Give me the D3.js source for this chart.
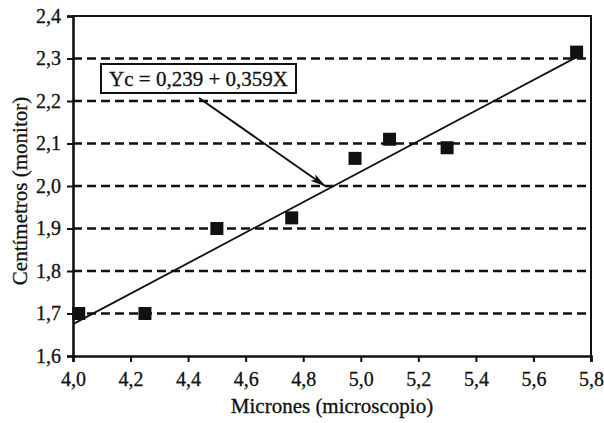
<!DOCTYPE html>
<html>
<head>
<meta charset="utf-8">
<script src="https://cdn.jsdelivr.net/npm/d3@7"></script>
<style>
  body { margin: 0; background: #fff; }
</style>
</head>
<body>
<script>
// Data
var micrones = [4.02, 4.25, 4.50, 4.76, 4.98, 5.10, 5.30, 5.75];
var centimetros = [1.70, 1.70, 1.90, 1.925, 2.065, 2.11, 2.09, 2.315];
var xTicks = [4.0, 4.2, 4.4, 4.6, 4.8, 5.0, 5.2, 5.4, 5.6, 5.8];
var yTicks = [1.6, 1.7, 1.8, 1.9, 2.0, 2.1, 2.2, 2.3, 2.4];
var intercept = 0.239, slope = 0.359;
var fitRange = [4.0, 5.76];
var equationLabel = "Yc = 0,239 + 0,359X";
var arrowFrom = [4.438, 2.207], arrowTo = [4.876, 2.0];

var serif = "Liberation Serif";
var ink = "#111";

var margin = { top: 16, right: 13, bottom: 67, left: 73 };
var width = 604 - margin.left - margin.right;
var height = 423 - margin.top - margin.bottom;

var svg = d3.select("body").append("svg")
    .attr("width", 604)
    .attr("height", 423)
    .attr("font-family", serif);

var g = svg.append("g")
    .attr("transform", "translate(" + margin.left + "," + margin.top + ")");

var x = d3.scaleLinear().domain([4.0, 5.8]).range([0, width]);
var y = d3.scaleLinear().domain([1.6, 2.4]).range([height, 0]);

var fmt = function (d) { return d3.format(".1f")(d).replace(".", ","); };

// dashed gridlines
g.selectAll(".grid")
    .data(yTicks.filter(function (d) { return d > 1.6 && d < 2.4; }))
    .enter().append("line")
    .attr("class", "grid")
    .attr("x1", 0).attr("x2", width)
    .attr("y1", function (d) { return y(d); })
    .attr("y2", function (d) { return y(d); })
    .attr("stroke", ink)
    .attr("stroke-width", 2.4)
    .attr("stroke-dasharray", "9,5");

// frame top / right
g.append("path")
    .attr("d", "M0," + y(2.4) + "H" + width + "V" + height)
    .attr("fill", "none")
    .attr("stroke", ink)
    .attr("stroke-width", 2);

// axes
var xAxis = g.append("g")
    .attr("transform", "translate(0," + height + ")")
    .call(d3.axisBottom(x).tickValues(xTicks).tickFormat(fmt).tickSizeOuter(0).tickSize(6).tickPadding(10));
var yAxis = g.append("g")
    .call(d3.axisLeft(y).tickValues(yTicks).tickFormat(fmt).tickSizeOuter(0).tickSize(6).tickPadding(6));

[xAxis, yAxis].forEach(function (a) {
    a.attr("font-family", serif).attr("font-size", 20);
    a.select(".domain").attr("stroke", ink).attr("stroke-width", 2.6);
    a.selectAll(".tick line").attr("stroke", ink).attr("stroke-width", 2);
    a.selectAll("text").attr("fill", ink).attr("stroke", ink).attr("stroke-width", 0.3);
});

// regression line
var fit = d3.line()
    .x(function (d) { return x(d); })
    .y(function (d) { return y(intercept + slope * d); });
g.append("path")
    .datum(fitRange)
    .attr("d", fit)
    .attr("fill", "none")
    .attr("stroke", ink)
    .attr("stroke-width", 1.8);

// points
g.selectAll(".pt")
    .data(micrones)
    .enter().append("rect")
    .attr("class", "pt")
    .attr("x", function (d) { return x(d) - 6.5; })
    .attr("y", function (d, i) { return y(centimetros[i]) - 6.5; })
    .attr("width", 13)
    .attr("height", 13)
    .attr("fill", ink);

// arrow
svg.append("defs").append("marker")
    .attr("id", "head")
    .attr("viewBox", "0 0 16 8")
    .attr("refX", 15).attr("refY", 4)
    .attr("markerWidth", 16).attr("markerHeight", 8)
    .attr("markerUnits", "userSpaceOnUse")
    .attr("orient", "auto")
    .append("path")
    .attr("d", "M0,0L16,4L0,8L4,4Z")
    .attr("fill", ink);

g.append("line")
    .attr("x1", x(arrowFrom[0])).attr("y1", y(arrowFrom[1]))
    .attr("x2", x(arrowTo[0])).attr("y2", y(arrowTo[1]))
    .attr("stroke", ink)
    .attr("stroke-width", 2)
    .attr("marker-end", "url(#head)");

// equation box
var box = g.append("g").attr("transform", "translate(28,48)");
box.append("rect")
    .attr("width", 195).attr("height", 29)
    .attr("fill", "#fff")
    .attr("stroke", ink)
    .attr("stroke-width", 2);
box.append("text")
    .attr("x", 97.5).attr("y", 21.5)
    .attr("text-anchor", "middle")
    .attr("font-family", serif)
    .attr("font-size", 21)
    .attr("fill", ink)
    .attr("stroke", ink).attr("stroke-width", 0.3)
    .text(equationLabel);

// axis titles
svg.append("text")
    .attr("x", margin.left + width / 2)
    .attr("y", 413)
    .attr("text-anchor", "middle")
    .attr("font-family", serif)
    .attr("font-size", 21)
    .attr("fill", ink)
    .attr("stroke", ink).attr("stroke-width", 0.3)
    .text("Micrones (microscopio)");

svg.append("text")
    .attr("transform", "translate(27," + (margin.top + height / 2 + 5) + ") rotate(-90)")
    .attr("text-anchor", "middle")
    .attr("font-family", serif)
    .attr("font-size", 21)
    .attr("fill", ink)
    .attr("stroke", ink).attr("stroke-width", 0.3)
    .text("Centímetros (monitor)");
</script>
</body>
</html>
